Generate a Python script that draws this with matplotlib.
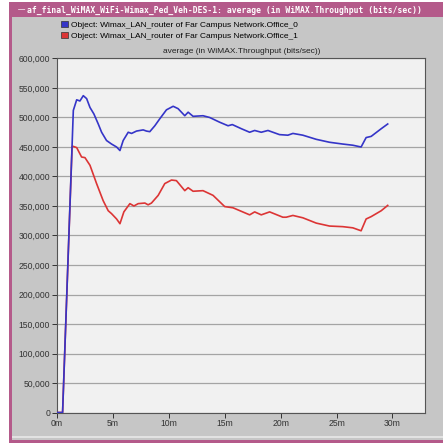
import matplotlib.pyplot as plt
from matplotlib.patches import Rectangle, Patch
from matplotlib.ticker import FuncFormatter

# throughput per router, minutes of sim time vs bits/sec
series_names = [
    "Object: Wimax_LAN_router of Far Campus Network.Office_0",
    "Object: Wimax_LAN_router of Far Campus Network.Office_1",
]
series_colors = ["#3535c8", "#dc3535"]

t_office0 = [0, 0.5, 1.46, 1.76, 2.05, 2.35, 2.65, 2.95, 3.3, 3.69, 3.99, 4.43, 4.88,
             5.33, 5.63, 5.92, 6.37, 6.67, 7.11, 7.71, 8.0, 8.3, 8.75, 9.2, 9.79,
             10.39, 10.83, 11.43, 11.73, 12.17, 13.06, 13.66, 14.55, 15.3, 15.68,
             16.49, 17.23, 17.68, 18.27, 18.87, 19.9, 20.65, 21.1, 21.7, 21.99,
             23.19, 24.38, 25.56, 26.46, 27.2, 27.65, 28.1, 29.0, 29.58]
v_office0 = [0, 0, 512000, 530000, 528000, 537000, 532000, 517000, 506000, 489000,
             475000, 461000, 455000, 450000, 444000, 461000, 475000, 473000, 477000,
             479000, 477000, 476000, 486000, 498000, 513000, 519000, 515000, 503000,
             509000, 502000, 503000, 500000, 492000, 486000, 488000, 481000, 475000,
             478000, 475000, 478000, 471000, 470000, 473000, 471000, 470000, 463000,
             458000, 455000, 453000, 450000, 466000, 468000, 481000, 489000]

t_office1 = [0, 0.5, 1.35, 1.46, 1.76, 2.2, 2.5, 2.95, 3.54, 4.13, 4.58, 4.88, 5.33,
             5.63, 5.98, 6.52, 6.88, 7.26, 7.86, 8.15, 8.45, 9.05, 9.64, 10.24,
             10.68, 11.43, 11.73, 12.17, 13.06, 13.96, 15.0, 15.74, 17.23, 17.68,
             18.27, 19.02, 20.2, 20.5, 21.1, 21.99, 23.19, 24.38, 25.56, 26.46, 27.2,
             27.65, 28.1, 29.0, 29.58]
v_office1 = [0, 0, 451000, 451000, 449000, 433000, 432000, 419000, 388000, 359000,
             342000, 337000, 328000, 320000, 340000, 354000, 350000, 354000, 355000,
             352000, 355000, 368000, 388000, 394000, 393000, 376000, 381000, 375000,
             376000, 368000, 349000, 347000, 335000, 340000, 335000, 340000, 331000,
             331000, 334000, 330000, 321000, 316000, 315000, 313000, 308000, 328000,
             332000, 342000, 351000]

y_ticks = list(range(0, 600001, 50000))
x_ticks = [0, 5, 10, 15, 20, 25, 30]

W, H = 443, 444
fig = plt.figure(figsize=(W / 100, H / 100), dpi=100)
fig.patch.set_facecolor("white")


def px_rect(x0, y0, x1, y1, color):
    # rectangle given in pixel coords, y measured from the top
    fig.patches.append(Rectangle((x0 / W, 1 - y1 / H), (x1 - x0) / W, (y1 - y0) / H,
                                 transform=fig.transFigure, facecolor=color,
                                 edgecolor="none", zorder=-10))


pink = "#b45a8a"
px_rect(9, 2, W, 443, pink)             # window border
px_rect(12, 17, W, 440, "#c6c6c6")      # client area
px_rect(12, 436, W, 437.5, "#e2e2e2")   # bevel line
fig.text(17 / W, 1 - 10 / H, "\u2212", color="#ecd0de", fontsize=8,
         va="center", ha="left", family="DejaVu Sans")
fig.text(27 / W, 1 - 10 / H,
         "af_final_WiMAX_WiFi-Wimax_Ped_Veh-DES-1: average (in WiMAX.Throughput (bits/sec))",
         color="white", fontsize=5.8, fontweight="bold", family="DejaVu Sans Mono",
         va="center", ha="left")

ax = fig.add_axes([57 / W, 1 - 412.5 / H, (425.5 - 57) / W, (412.5 - 58.5) / H])
ax.set_facecolor("#f1f1f1")

ax.plot(t_office1, v_office1, color=series_colors[1], lw=1.2, zorder=3)
ax.plot(t_office0, v_office0, color=series_colors[0], lw=1.2, zorder=4)

ax.set_xlim(0, 32.96)
ax.set_ylim(0, 600000)
ax.set_yticks(y_ticks)
ax.set_xticks(x_ticks)
ax.xaxis.set_major_formatter(FuncFormatter(lambda v, p: f"{int(v)}m"))
ax.yaxis.set_major_formatter(FuncFormatter(lambda v, p: f"{int(v):,}"))
ax.yaxis.grid(True, color="#a4a4a4", lw=0.9)
ax.set_axisbelow(True)
ax.tick_params(labelsize=6.2, colors="#333333", length=3.5, width=0.7, pad=1.5)
for lab in ax.get_xticklabels() + ax.get_yticklabels():
    lab.set_family("Liberation Sans")
for s in ax.spines.values():
    s.set_color("#555555")
    s.set_linewidth(0.8)

ax.set_title("average (in WiMAX.Throughput (bits/sec))", fontsize=6,
             family="Liberation Sans", color="#222222", pad=4)

handles = [Patch(facecolor=c, edgecolor="#333333", linewidth=0.5) for c in series_colors]
fig.legend(handles, series_names, loc="upper left",
           bbox_to_anchor=(61 / W, 1 - 21 / H), frameon=False,
           prop={"family": "Liberation Sans", "size": 6},
           handlelength=0.8, handleheight=0.8, handletextpad=0.4,
           labelspacing=0.35, borderaxespad=0, borderpad=0)

fig.savefig("out.png", dpi=100)
